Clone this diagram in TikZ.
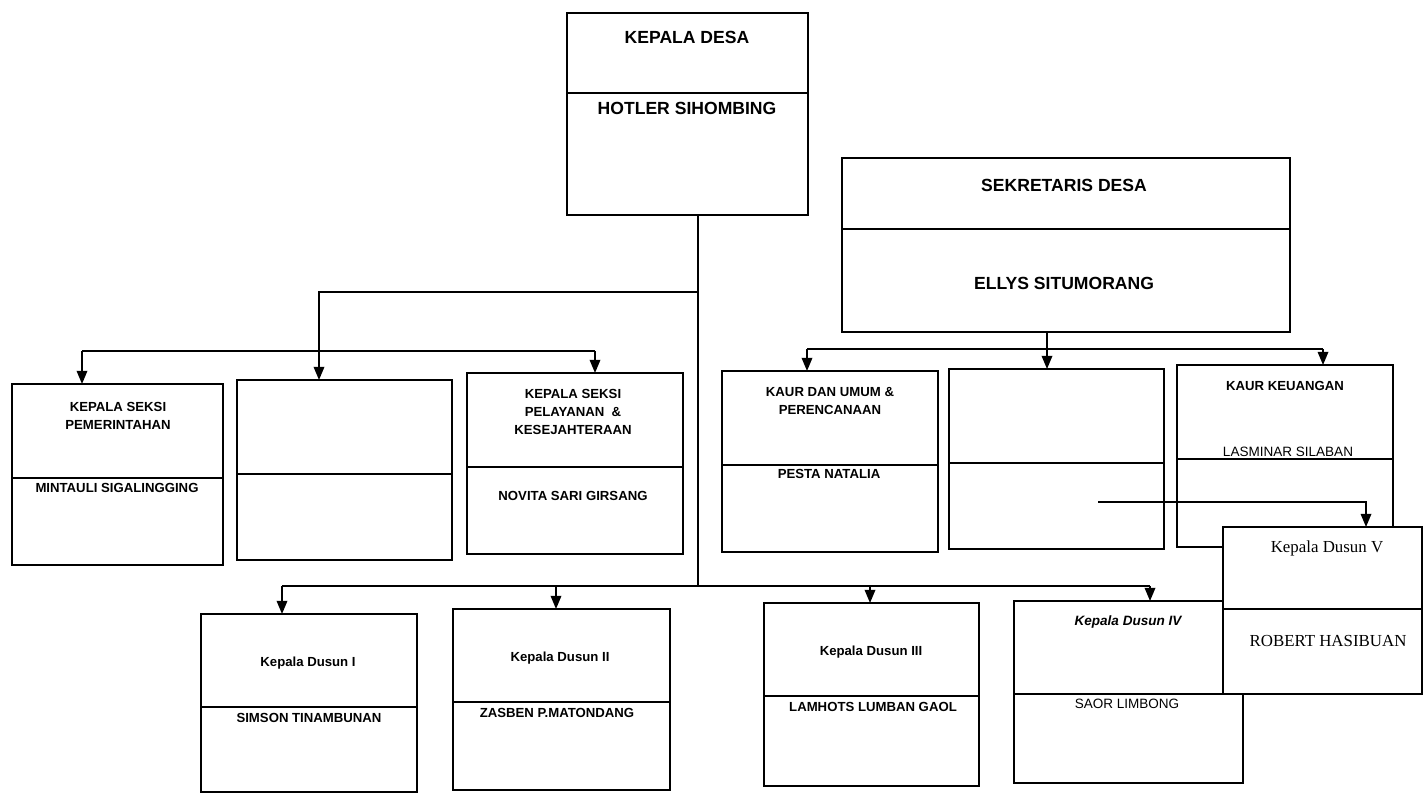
\documentclass[tikz,border=0pt]{standalone}
\usepackage{fontspec}
\setmainfont{Liberation Sans}
\newfontfamily\timesfont{Liberation Serif}
\usetikzlibrary{arrows.meta}

\tikzset{
    box/.style={draw, fill=white, line width=1pt, inner sep=0pt, outer sep=0pt, anchor=north west},
    link/.style={line width=1pt},
    arr/.style={line width=1pt, -{Triangle[width=6pt,length=7.5pt]}},
    bigtxt/.style={font=\fontsize{10}{12}\selectfont\bfseries, align=center, inner sep=0pt},
    smalltxt/.style={font=\fontsize{7.5}{10.3}\selectfont\bfseries, align=center, inner sep=0pt},
    lighttxt/.style={font=\fontsize{7.7}{10}\selectfont, inner sep=0pt},
    italtxt/.style={font=\fontsize{7.7}{10}\selectfont\bfseries\itshape, inner sep=0pt},
    seriftxt/.style={font=\fontsize{9.6}{12}\selectfont\timesfont, inner sep=0pt}
}

\begin{document}
\begin{tikzpicture}[x=0.02cm, y=-0.02cm]
    \useasboundingbox (0,0) rectangle (1425,793);
    % Draw boxes: name/left/top/width/height/divider
    \def\boxes{kd/567/13/241/202/80, sd/842/158/448/174/71,
        pem/12/384/211/181/94, kosong1/237/380/215/180/94, pel/467/373/216/181/94,
        umum/722/371/216/181/94, kosong2/949/369/215/180/94, keu/1177/365/216/182/94,
        dsn1/201/614/216/178/93, dsn2/453/609/217/181/93, dsn3/764/603/215/183/93,
        dsn4/1014/601/229/182/93, dsn5/1223/527/199/167/82}
    \foreach \n/\x/\y/\w/\h/\d in \boxes {
        \node[box, minimum width=\w*0.02cm, minimum height=\h*0.02cm] (\n) at (\x,\y) {};
        \draw[link] (\x,\y+\d) -- (\x+\w,\y+\d);
    }
    % Texts
    \def\bigtexts{687/37/KEPALA DESA, 687/108/HOTLER SIHOMBING,
        1064/185/SEKRETARIS DESA, 1064/283/ELLYS SITUMORANG}
    \foreach \x/\y/\t [count=\i] in \bigtexts {
        \node[bigtxt] (big\i) at (\x,\y) {\t};
    }
    \def\smalltexts{118/416/KEPALA SEKSI\\PEMERINTAHAN, 117/488/MINTAULI SIGALINGGING,
        573/412/KEPALA SEKSI\\PELAYANAN \ \&\\KESEJAHTERAAN, 573/496/NOVITA SARI GIRSANG,
        830/401/KAUR DAN UMUM \&\\PERENCANAAN, 829/474/PESTA NATALIA,
        1285/386/KAUR KEUANGAN,
        308/663/Kepala Dusun I, 309/718/SIMSON TINAMBUNAN,
        560/658/Kepala Dusun II, 557/713/ZASBEN P.MATONDANG,
        871/652/Kepala Dusun III, 873/707/LAMHOTS LUMBAN GAOL}
    \foreach \x/\y/\t [count=\i] in \smalltexts {
        \node[smalltxt] (small\i) at (\x,\y) {\t};
    }
    \node[lighttxt] (lasminar) at (1288,452) {LASMINAR SILABAN};
    \node[lighttxt] (saor) at (1127,704) {SAOR LIMBONG};
    \node[italtxt] (dusun4) at (1128,622) {Kepala Dusun IV};
    \node[seriftxt] (dusun5) at (1327,548) {Kepala Dusun V};
    \node[seriftxt] (robert) at (1328,641) {ROBERT HASIBUAN};
    % Draw links
    \coordinate (trunk) at (698,292);
    \coordinate (trunkend) at (698,586);
    \draw[link] (kd.south -| trunk) -- (trunkend);
    \coordinate (kiri) at (319,292);
    \draw[arr] (trunk) -- (kiri) -- (kiri |- kosong1.north);
    \coordinate (lb1) at (82,351);
    \coordinate (lb2) at (595,351);
    \draw[link] (lb1) -- (lb2);
    \draw[arr] (lb1) -- (lb1 |- pem.north);
    \draw[arr] (lb2) -- (lb2 |- pel.north);
    \coordinate (sek) at (1047,349);
    \draw[arr] (sd.south -| sek) -- (sek |- kosong2.north);
    \coordinate (rb1) at (807,349);
    \coordinate (rb2) at (1323,349);
    \draw[link] (rb1) -- (rb2);
    \draw[arr] (rb1) -- (rb1 |- umum.north);
    \draw[arr] (rb2) -- (rb2 |- keu.north);
    \coordinate (v1) at (1098,502);
    \coordinate (v2) at (1366,502);
    \draw[arr] (v1) -- (v2) -- (v2 |- dsn5.north);
    \draw[link] (282,586) -- (1150,586);
    \foreach \x/\n in {282/dsn1, 556/dsn2, 870/dsn3, 1150/dsn4} {
        \coordinate (b\n) at (\x,586);
        \draw[arr] (b\n) -- (b\n |- \n.north);
    }
\end{tikzpicture}
\end{document}
